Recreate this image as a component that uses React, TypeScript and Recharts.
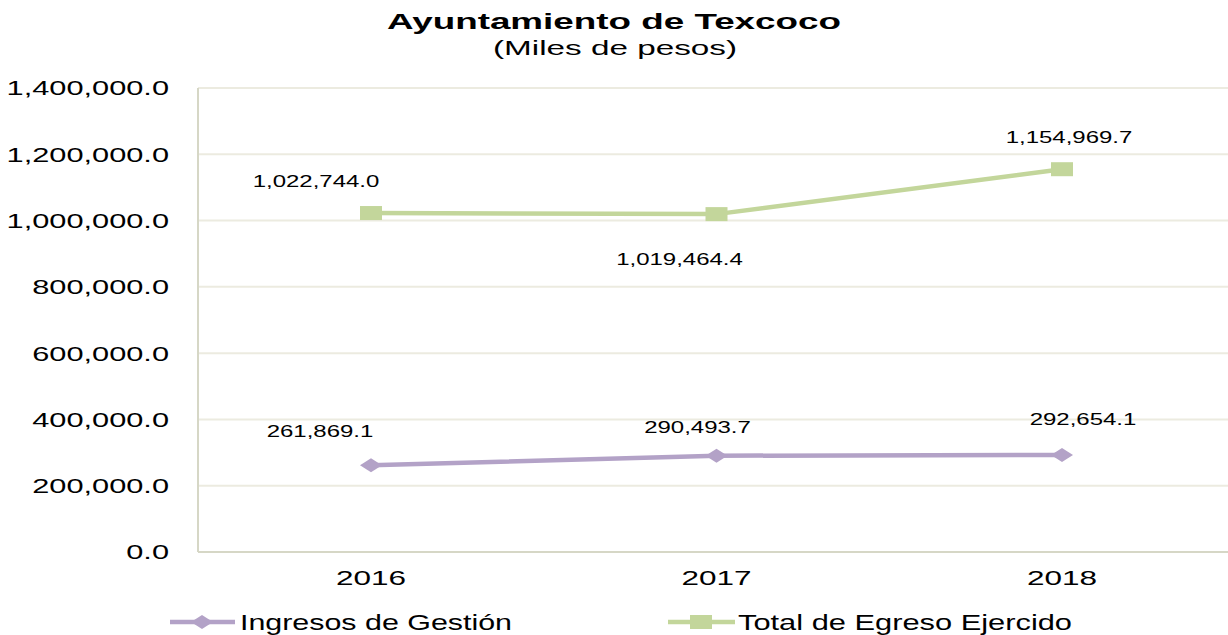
import { LineChart, Line, XAxis, YAxis, CartesianGrid, LabelList } from "recharts";

const years = ["2016", "2017", "2018"];
const ingresos = [261869.1, 290493.7, 292654.1];
const egreso = [1022744.0, 1019464.4, 1154969.7];
const yTicks = [0, 200000, 400000, 600000, 800000, 1000000, 1200000, 1400000];

// hand-placed label offsets (dx, dy) from each point, as in the original
const ingresosLabelOffsets = [[-51, -34], [-19, -28], [21, -36]];
const egresoLabelOffsets = [[-55, -32], [-37, 45], [7, -32]];

const data = years.map((year, i) => ({ year, ingresos: ingresos[i], egreso: egreso[i] }));

const PURPLE = "#b3a2c7";
const GREEN = "#c3d69b";
const FONT = "'Liberation Sans', Arial, sans-serif";
const SX = 1.5; // text in the source is stretched horizontally

const fmt = (v: number) =>
  v.toLocaleString("en-US", { minimumFractionDigits: 1, maximumFractionDigits: 1 });

function YTick({ x, y, payload }: any) {
  return (
    <g transform={`translate(${x},${y})`}>
      <text transform={`scale(${SX},1)`} textAnchor="end" dy="0.36em" fontSize={20.5} fill="#000" fontFamily={FONT}>
        {fmt(payload.value)}
      </text>
    </g>
  );
}

function XTick({ x, y, payload }: any) {
  return (
    <g transform={`translate(${x},${y})`}>
      <text transform={`scale(${SX},1)`} textAnchor="middle" y={33} fontSize={21} fill="#000" fontFamily={FONT}>
        {payload.value}
      </text>
    </g>
  );
}

const makeLabel = (offsets: number[][]) => (props: any) => {
  const { x, y, value, index } = props;
  const [dx, dy] = offsets[index] || [0, -30];
  return (
    <g transform={`translate(${x + dx},${y + dy})`}>
      <text transform={`scale(${SX},1)`} textAnchor="middle" dy="0.36em" fontSize={16} fill="#000" fontFamily={FONT}>
        {fmt(value)}
      </text>
    </g>
  );
};

const Diamond = (props: any) => {
  const { cx, cy, index } = props;
  return <path key={`d-${index}`} d={`M${cx - 11},${cy} L${cx},${cy - 7} L${cx + 11},${cy} L${cx},${cy + 7} Z`} fill={PURPLE} />;
};

const Square = (props: any) => {
  const { cx, cy, index } = props;
  return <rect key={`s-${index}`} x={cx - 11} y={cy - 7} width={22} height={14} fill={GREEN} />;
};

export default function App() {
  return (
    <div style={{ position: "absolute", left: 0, top: 0, width: 1228, height: 635, overflow: "hidden", background: "#fff" }}>
      <LineChart width={1240} height={635} data={data} margin={{ top: 88, right: 5, bottom: 0, left: 0 }}>
        <CartesianGrid vertical={false} stroke="#ecebe0" strokeWidth={2} />
        <XAxis
          dataKey="year"
          height={83}
          padding={{ left: 173, right: 173 }}
          tickSize={0}
          tickMargin={0}
          tick={<XTick />}
          axisLine={{ stroke: "#d6d7c6", strokeWidth: 2 }}
          tickLine={false}
        />
        <YAxis
          width={198}
          domain={[0, 1400000]}
          ticks={yTicks}
          interval={0}
          tickSize={0}
          tickMargin={29}
          tick={<YTick />}
          axisLine={{ stroke: "#d6d7c6", strokeWidth: 2 }}
          tickLine={false}
        />
        <Line
          dataKey="ingresos"
          stroke={PURPLE}
          strokeWidth={4.5}
          dot={Diamond}
          activeDot={false}
          isAnimationActive={false}
        >
          <LabelList dataKey="ingresos" content={makeLabel(ingresosLabelOffsets)} />
        </Line>
        <Line
          dataKey="egreso"
          stroke={GREEN}
          strokeWidth={4.5}
          dot={Square}
          activeDot={false}
          isAnimationActive={false}
        >
          <LabelList dataKey="egreso" content={makeLabel(egresoLabelOffsets)} />
        </Line>
      </LineChart>
      <svg width={1228} height={635} style={{ position: "absolute", left: 0, top: 0, pointerEvents: "none" }}>
        <text x={614} y={29} textAnchor="middle" fontSize={22} fontWeight="bold" fontFamily={FONT} fill="#000"
          textLength={454} lengthAdjust="spacingAndGlyphs">
          Ayuntamiento de Texcoco
        </text>
        <text x={615} y={55} textAnchor="middle" fontSize={20.5} fontFamily={FONT} fill="#000"
          textLength={244} lengthAdjust="spacingAndGlyphs">
          (Miles de pesos)
        </text>
        <line x1={170} y1={622} x2={235} y2={622} stroke={PURPLE} strokeWidth={4.5} />
        <path d="M191,622 L202,615 L213,622 L202,629 Z" fill={PURPLE} />
        <text x={240} y={630} fontSize={22} fontFamily={FONT} fill="#000" textLength={272} lengthAdjust="spacingAndGlyphs">
          Ingresos de Gestión
        </text>
        <line x1={668} y1={622} x2={735} y2={622} stroke={GREEN} strokeWidth={4.5} />
        <rect x={690} y={615} width={22} height={14} fill={GREEN} />
        <text x={738} y={630} fontSize={22} fontFamily={FONT} fill="#000" textLength={334} lengthAdjust="spacingAndGlyphs">
          Total de Egreso Ejercido
        </text>
      </svg>
    </div>
  );
}
